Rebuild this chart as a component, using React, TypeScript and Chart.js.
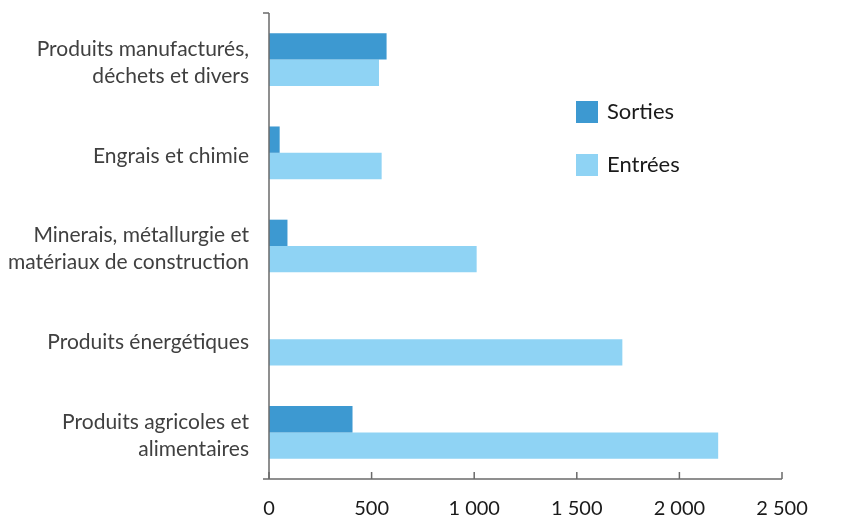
import React, { useEffect, useRef } from "react";
import { Chart, registerables } from "chart.js";

Chart.register(...registerables);

const categories: string[][] = [
  ["Produits manufacturés,", "déchets et divers"],
  ["Engrais et chimie"],
  ["Minerais, métallurgie et", "matériaux de construction"],
  ["Produits énergétiques"],
  ["Produits agricoles et", "alimentaires"],
];
const sorties: number[] = [573, 52, 90, 0, 407];
const entrees: number[] = [536, 549, 1012, 1722, 2189];
const xTicks: number[] = [0, 500, 1000, 1500, 2000, 2500];
const seriesNames: string[] = ["Sorties", "Entrées"];
const colors: string[] = ["#3d99d1", "#8fd3f4"];

const FONT = "Lato, 'Open Sans', sans-serif";

const axesAndLegend = {
  id: "axesAndLegend",
  afterDraw(chart: any) {
    const ctx = chart.ctx;
    const xs = chart.scales.x;
    const area = chart.chartArea;
    ctx.save();
    ctx.strokeStyle = "#6b6b6b";
    ctx.lineWidth = 1.5;
    const x0 = xs.getPixelForValue(0);
    // y axis
    ctx.beginPath();
    ctx.moveTo(x0, area.top);
    ctx.lineTo(x0, area.bottom);
    ctx.moveTo(x0 - 6, area.top);
    ctx.lineTo(x0, area.top);
    ctx.stroke();
    // x axis
    ctx.beginPath();
    ctx.moveTo(x0 - 6, area.bottom);
    ctx.lineTo(xs.getPixelForValue(xTicks[xTicks.length - 1]), area.bottom);
    xTicks.forEach((t) => {
      const px = xs.getPixelForValue(t);
      ctx.moveTo(px, area.bottom);
      ctx.lineTo(px, area.bottom - 7);
    });
    ctx.stroke();
    // legend
    const lx = 576;
    const ly = [101, 154];
    ctx.font = `22px ${FONT}`;
    ctx.textBaseline = "middle";
    ctx.textAlign = "left";
    seriesNames.forEach((name, i) => {
      ctx.fillStyle = colors[i];
      ctx.fillRect(lx, ly[i], 22, 22);
      ctx.fillStyle = "#1a1a1a";
      ctx.fillText(name, lx + 31, ly[i] + 11);
    });
    ctx.restore();
  },
};

export default function App() {
  const ref = useRef<HTMLCanvasElement | null>(null);
  useEffect(() => {
    if (!ref.current) return;
    const chart = new Chart(ref.current, {
      type: "bar",
      data: {
        labels: categories,
        datasets: [
          {
            label: seriesNames[0],
            data: sorties,
            backgroundColor: colors[0],
            borderWidth: 0,
            categoryPercentage: 0.565,
            barPercentage: 1,
          },
          {
            label: seriesNames[1],
            data: entrees,
            backgroundColor: colors[1],
            borderWidth: 0,
            categoryPercentage: 0.565,
            barPercentage: 1,
          },
        ],
      },
      options: {
        indexAxis: "y",
        animation: false,
        responsive: false,
        maintainAspectRatio: false,
        layout: { padding: { left: 0, right: 69, top: 13, bottom: 0 } },
        plugins: { legend: { display: false }, tooltip: { enabled: false } },
        scales: {
          x: {
            min: 0,
            max: 2500,
            afterFit: (s: any) => {
              s.height = 41;
              s.paddingLeft = 0;
              s.paddingRight = 0;
            },
            afterBuildTicks: (s: any) => {
              s.ticks = xTicks.map((v) => ({ value: v }));
            },
            grid: { display: false, drawTicks: false },
            border: { display: false },
            ticks: {
              padding: 18,
              color: "#1a1a1a",
              font: { family: FONT, size: 20 },
              callback: (v: any) =>
                Number(v).toLocaleString("en-US").replace(/,/g, " "),
            },
          },
          y: {
            afterFit: (s: any) => {
              s.width = 269;
              s.paddingTop = 0;
              s.paddingBottom = 0;
            },
            grid: { display: false, drawTicks: false },
            border: { display: false },
            ticks: {
              padding: 20,
              labelOffset: 3,
              color: "#404040",
              font: { family: FONT, size: 21, lineHeight: 1.28 },
            },
          },
        },
      },
      plugins: [axesAndLegend],
    });
    return () => chart.destroy();
  }, []);
  return (
    <div style={{ position: "fixed", left: 0, top: 0, width: 851, height: 520, background: "#fff" }}>
      <canvas ref={ref} width={851} height={520} />
    </div>
  );
}
